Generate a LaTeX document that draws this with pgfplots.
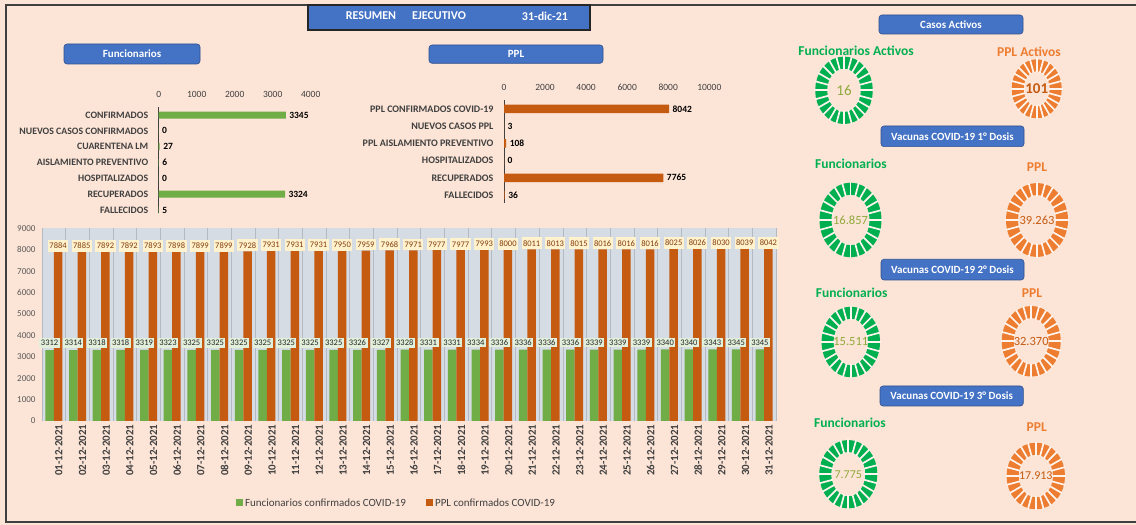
\documentclass[border=0pt]{standalone}
\usepackage{fontspec}
\setmainfont{Carlito}
\usepackage{pgfplots}
\usepackage{pgfplotstable}
\pgfplotsset{compat=1.18}
\pgfplotsset{/pgf/number format/1000 sep={}, /pgf/number format/assume math mode=true}

\definecolor{peach}{HTML}{FCE4D6}
\definecolor{gapc}{HTML}{FFF4EE}
\definecolor{btnblue}{HTML}{4472C4}
\definecolor{btnedge}{HTML}{2F528F}
\definecolor{fgreen}{HTML}{70AD47}
\definecolor{porange}{HTML}{C55A11}
\definecolor{plotbg}{HTML}{D6DCE4}
\definecolor{gridc}{HTML}{B4BAC3}
\definecolor{labgray}{HTML}{595959}
\definecolor{dgray}{HTML}{404040}
\definecolor{ringgreen}{HTML}{00B050}
\definecolor{ringorange}{HTML}{ED7D31}
\definecolor{olivetxt}{HTML}{8FAA3C}
\definecolor{browntxt}{HTML}{C55A11}
\definecolor{lblyellow}{HTML}{FFF2CC}
\definecolor{lblgreen}{HTML}{E2EFDA}
\definecolor{lblbrown}{HTML}{843C0C}

\newcommand\fs[1]{\fontsize{#1}{#1}\selectfont}

% blue buttons
\newcommand\btn[7]{%
  \draw[rounded corners=3pt, fill=btnblue, draw=btnedge, line width=0.6pt] (#1pt,#2pt) rectangle (#3pt,#4pt);
  \node[text=white, font=\bfseries\fs{11}] at (#5pt,#6pt) {#7};}

% segmented ring gauge (cx, cy, outer rx, outer ry, colour)
\newcommand\ring[5]{%
  \pgfmathsetmacro\rxm{#3-6}\pgfmathsetmacro\rym{#4-6}%
  \draw[#5, line width=12pt] (#1pt,#2pt) ellipse [x radius=\rxm pt, y radius=\rym pt];
  \foreach \a in {0,15,...,345}{%
    \pgfmathsetmacro\ix{#1+(#3-13)*cos(\a)}\pgfmathsetmacro\iy{#2+(#4-13)*sin(\a)}%
    \pgfmathsetmacro\ox{#1+(#3+1)*cos(\a)}\pgfmathsetmacro\oy{#2+(#4+1)*sin(\a)}%
    \draw[gapc, line width=1.7pt] (\ix pt,\iy pt) -- (\ox pt,\oy pt);}}

\pgfplotstableread{
x func ppl
0 3312 7884
1 3314 7885
2 3318 7892
3 3318 7892
4 3319 7893
5 3323 7898
6 3325 7899
7 3325 7899
8 3325 7928
9 3325 7931
10 3325 7931
11 3325 7931
12 3325 7950
13 3326 7959
14 3327 7968
15 3328 7971
16 3331 7977
17 3331 7977
18 3334 7993
19 3336 8000
20 3336 8011
21 3336 8013
22 3336 8015
23 3339 8016
24 3339 8016
25 3339 8016
26 3340 8025
27 3340 8026
28 3343 8030
29 3345 8039
30 3345 8042
}\daily

\begin{document}
\begin{tikzpicture}
\path[use as bounding box] (0,0) rectangle (1136pt,525pt);
\fill[peach] (0,0) rectangle (1136pt,525pt);
\draw[dgray, line width=1.5pt] (1140pt,3pt) -- (6pt,3pt) -- (6pt,520pt) -- (1140pt,520pt);

% title
\draw[fill=btnblue, draw=black!85, line width=1.8pt] (308pt,495pt) rectangle (590pt,520pt);
\node[text=white, font=\bfseries\fs{12}] at (371pt,509pt) {RESUMEN};
\node[text=white, font=\bfseries\fs{12}] at (439pt,509pt) {EJECUTIVO};
\node[text=white, font=\bfseries\fs{12}] at (545pt,509pt) {31-dic-21};

\btn{64}{461}{200}{481}{132}{471}{Funcionarios}
\btn{429}{461.7}{603}{480}{516}{471}{PPL}

% Funcionarios summary
\begin{axis}[
  at={(158.7pt,417.9pt)}, anchor=north west, scale only axis,
  width=152pt, height=106.1pt,
  xbar, bar width=7pt,
  xmin=0, xmax=4000, xtick={0,1000,...,4000}, scaled x ticks=false,
  ymin=-0.2, ymax=6.5, ytick={0,...,6},
  yticklabels={FALLECIDOS, RECUPERADOS, HOSPITALIZADOS, AISLAMIENTO PREVENTIVO, CUARENTENA LM, NUEVOS CASOS CONFIRMADOS, CONFIRMADOS},
  axis x line*=top, axis y line*=left,
  x axis line style={draw=none}, y axis line style={draw=dgray, line width=1pt},
  major tick length=0pt,
  xticklabel style={font=\fs{9.5}, text=dgray, yshift=6pt},
  yticklabel style={font=\bfseries\fs{9.8}, text=dgray, xshift=-7pt},
  nodes near coords, nodes near coords align=horizontal,
  every node near coord/.append style={font=\bfseries\fs{9.5}, text=black, anchor=west},
]
\addplot[fill=fgreen, draw=none] coordinates {(5,0) (3324,1) (0,2) (6,3) (27,4) (0,5) (3345,6)};
\end{axis}

% PPL summary
\begin{axis}[
  at={(504pt,424.6pt)}, anchor=north west, scale only axis,
  width=205.3pt, height=102.3pt,
  xbar, bar width=8.5pt,
  xmin=0, xmax=10000, xtick={0,2000,...,10000}, scaled x ticks=false,
  ymin=-0.45, ymax=5.5, ytick={0,...,5},
  yticklabels={FALLECIDOS, RECUPERADOS, HOSPITALIZADOS, PPL AISLAMIENTO PREVENTIVO, NUEVOS CASOS PPL, PPL CONFIRMADOS COVID-19},
  axis x line*=top, axis y line*=left,
  x axis line style={draw=none}, y axis line style={draw=dgray, line width=1pt},
  major tick length=0pt,
  xticklabel style={font=\fs{9.5}, text=dgray, yshift=6pt},
  yticklabel style={font=\bfseries\fs{10}, text=dgray, xshift=-7pt},
  nodes near coords, nodes near coords align=horizontal,
  every node near coord/.append style={font=\bfseries\fs{9.5}, text=black, anchor=west},
]
\addplot[fill=porange, draw=none] coordinates {(36,0) (7765,1) (0,2) (108,3) (3,4) (8042,5)};
\end{axis}

% daily confirmed cases
\begin{axis}[
  at={(42pt,104pt)}, anchor=south west, scale only axis,
  width=734pt, height=192.7pt,
  ybar=0pt, bar width=8.5pt,
  ymin=0, ymax=9000, ytick={0,1000,...,9000},
  xmin=-0.5, xmax=30.5, xtick={0,...,30},
  xticklabels={01-12-2021,02-12-2021,03-12-2021,04-12-2021,05-12-2021,06-12-2021,07-12-2021,08-12-2021,09-12-2021,10-12-2021,11-12-2021,12-12-2021,13-12-2021,14-12-2021,15-12-2021,16-12-2021,17-12-2021,18-12-2021,19-12-2021,20-12-2021,21-12-2021,22-12-2021,23-12-2021,24-12-2021,25-12-2021,26-12-2021,27-12-2021,28-12-2021,29-12-2021,30-12-2021,31-12-2021},
  minor xtick={-0.5,0.5,...,30.5}, xminorgrids,
  minor grid style={draw=gridc, line width=0.8pt},
  axis line style={draw=none}, major tick length=0pt, minor tick length=0pt,
  axis background/.style={fill=plotbg},
  yticklabel style={font=\fs{9}, text=labgray, xshift=-3pt},
  xticklabel style={font=\bfseries\fs{11}, text=dgray, rotate=90, anchor=east, yshift=-5pt},
  legend columns=2,
  legend style={at={(0.483,-0.4255)}, anchor=center, draw=none, fill=none,
    font=\fs{11}, text=dgray, /tikz/every even column/.append style={column sep=18pt}},
  legend image code/.code={\fill[#1] (0pt,-3.5pt) rectangle (7pt,3.5pt);},
]
\addplot[fill=fgreen, draw=none, bar shift=-4.25pt] table[x=x, y=func] {\daily};
\addplot[fill=porange, draw=none, bar shift=4.25pt, nodes near coords,
  every node near coord/.append style={font=\fs{8.5}, text=lblbrown, fill=lblyellow,
    inner xsep=1.5pt, inner ysep=3pt, anchor=south}] table[x=x, y=ppl] {\daily};
\addplot[draw=none, fill=none, bar shift=-4.25pt, forget plot, nodes near coords,
  every node near coord/.append style={font=\fs{8.5}, text=black!85, fill=lblgreen,
    inner xsep=1.5pt, inner ysep=2pt, anchor=south, yshift=2pt}] table[x=x, y=func] {\daily};
\legend{Funcionarios confirmados COVID-19, PPL confirmados COVID-19}
\end{axis}

% right panel
\btn{879}{491}{1023}{510}{951}{500.5}{Casos Activos}
\btn{881}{378.3}{1024}{399}{952.5}{388.7}{Vacunas COVID-19 1° Dosis}
\btn{881}{245}{1024}{265.7}{952.5}{255.3}{Vacunas COVID-19 2° Dosis}
\btn{880}{119}{1023.3}{139}{951.7}{129}{Vacunas COVID-19 3° Dosis}

\node[text=ringgreen, font=\bfseries\fs{13.5}] at (856pt,474.3pt) {Funcionarios Activos};
\node[text=ringorange, font=\bfseries\fs{13.5}] at (1029pt,473pt) {PPL Activos};
\node[text=ringgreen, font=\bfseries\fs{13.5}] at (851pt,361pt) {Funcionarios};
\node[text=ringorange, font=\bfseries\fs{13.5}] at (1037pt,358.3pt) {PPL};
\node[text=ringgreen, font=\bfseries\fs{13.5}] at (851.7pt,231.7pt) {Funcionarios};
\node[text=ringorange, font=\bfseries\fs{13.5}] at (1032pt,231.7pt) {PPL};
\node[text=ringgreen, font=\bfseries\fs{13.5}] at (850pt,102.3pt) {Funcionarios};
\node[text=ringorange, font=\bfseries\fs{13.5}] at (1036.7pt,98.3pt) {PPL};

\ring{844}{434.7}{28.8}{33.7}{ringgreen}
\ring{1036.7}{436.2}{25}{29.5}{ringorange}
\ring{850.5}{305}{31}{37.3}{ringgreen}
\ring{1037}{305}{31}{37}{ringorange}
\ring{850.8}{183}{29.2}{35.3}{ringgreen}
\ring{1031.2}{183.7}{29.5}{35.3}{ringorange}
\ring{848.3}{50.8}{29}{34.2}{ringgreen}
\ring{1035.8}{49}{29.2}{33.3}{ringorange}

\node[text=olivetxt, font=\fs{15}] at (844pt,434.7pt) {16};
\node[text=browntxt, font=\bfseries\fs{15}] at (1036.7pt,436.2pt) {101};
\node[text=olivetxt, font=\fs{12.5}] at (850.5pt,305pt) {16.857};
\node[text=browntxt, font=\fs{12.5}] at (1037pt,305pt) {39.263};
\node[text=olivetxt, font=\fs{12.5}] at (850.8pt,183pt) {15.511};
\node[text=browntxt, font=\fs{12.5}] at (1031.2pt,183.7pt) {32.370};
\node[text=olivetxt, font=\fs{12}] at (848.3pt,50.8pt) {7.775};
\node[text=browntxt, font=\fs{12}] at (1035.8pt,49pt) {17.913};
\end{tikzpicture}
\end{document}
